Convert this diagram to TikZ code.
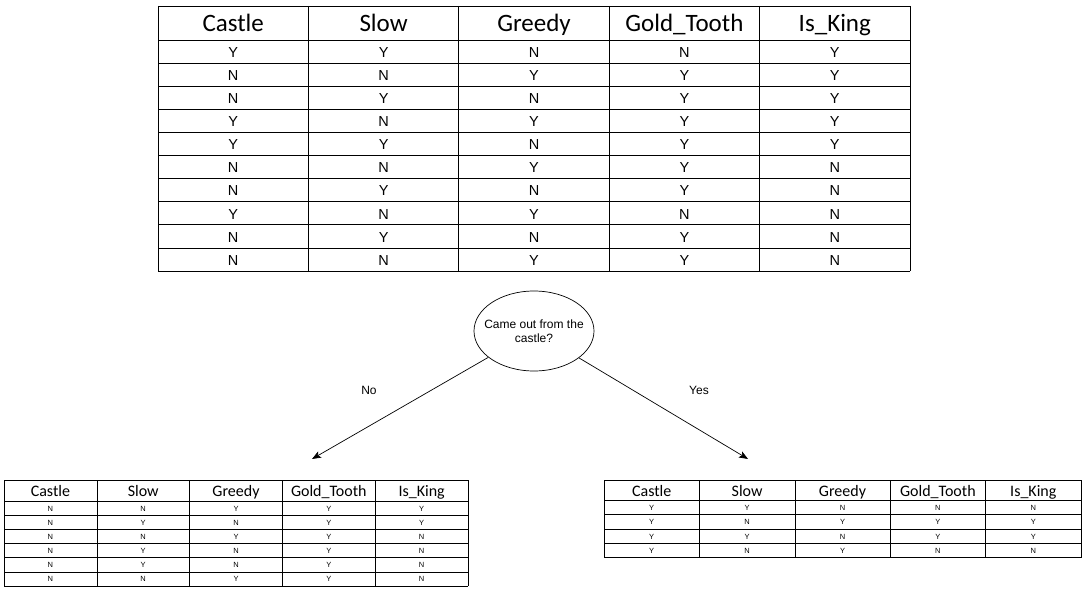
\documentclass[tikz,border=0pt]{standalone}
\usepackage{fontspec}
\setmainfont{Liberation Sans}
\newfontfamily\calib{Carlito}
\usetikzlibrary{shapes.geometric,arrows.meta}
\tikzset{
  grid/.style={draw=black,line width=0.8pt},
  smallgrid/.style={draw=black,line width=0.6pt},
  bighead/.style={anchor=base,inner sep=0pt,font=\calib\fontsize{25}{30}\selectfont},
  smallhead/.style={anchor=base,inner sep=0pt,font=\calib\fontsize{16}{19}\selectfont},
  bigcell/.style={anchor=base,inner sep=0pt,font=\fontsize{14.5}{17}\selectfont},
  smallcell/.style={anchor=base,inner sep=0pt,font=\fontsize{7.5}{9}\selectfont},
  question/.style={draw=black,line width=0.7pt,ellipse,minimum width=120pt,minimum height=80pt,inner sep=0pt},
  questiontext/.style={align=center,inner sep=0pt,font=\fontsize{12}{14.5}\selectfont},
  branch/.style={draw=black,line width=0.7pt,-{Stealth[length=9pt,width=7pt,inset=2pt]}},
  branchlabel/.style={font=\fontsize{12}{14}\selectfont,inner sep=0pt}
}
\begin{document}
\begin{tikzpicture}[x=1pt,y=-1pt]
\useasboundingbox (0,0) rectangle (1088,594);
\fill[white] (0,0) rectangle (1088,594);

% ---------- top table ----------
\foreach \i in {0,...,5} \draw[grid] ({158+150.4*\i},6) -- ({158+150.4*\i},271);
\draw[grid] (158,6) -- (910,6);
\foreach \k in {0,...,10} \draw[grid] (158,{40+23.1*\k}) -- (910,{40+23.1*\k});
\foreach \h [count=\c] in {Castle,Slow,Greedy,Gold\_Tooth,Is\_King}
  \node[bighead] (TH-\c) at ({158+150.4*(\c-0.5)},32) {\h};
\foreach \row [count=\r] in {{Y,Y,N,N,Y},{N,N,Y,Y,Y},{N,Y,N,Y,Y},{Y,N,Y,Y,Y},{Y,Y,N,Y,Y},{N,N,Y,Y,N},{N,Y,N,Y,N},{Y,N,Y,N,N},{N,Y,N,Y,N},{N,N,Y,Y,N}}
  \foreach \v [count=\c] in \row
    \node[bigcell] (T-\r-\c) at ({158+150.4*(\c-0.5)},{40+23.1*(\r-1)+17.3}) {\v};

% ---------- question ----------
\node[question] (q) at (534,331) {};
\node[questiontext] (qt) at (534,331) {Came out from the\\castle?};
\coordinate (endL) at (312,459);
\coordinate (endR) at (748,459);
\draw[branch] (q) -- (endL);
\draw[branch] (q) -- (endR);
\node[branchlabel] (no) at (369,390) {No};
\node[branchlabel] (yes) at (699,390) {Yes};

% ---------- bottom left table ----------
\foreach \i in {0,...,5} \draw[smallgrid] ({4+92.8*\i},480) -- ({4+92.8*\i},586);
\draw[smallgrid] (4,480) -- (468,480);
\foreach \k in {0,...,6} \draw[smallgrid] (4,{501+14.17*\k}) -- (468,{501+14.17*\k});
\foreach \h [count=\c] in {Castle,Slow,Greedy,Gold\_Tooth,Is\_King}
  \node[smallhead] (LH-\c) at ({4+92.8*(\c-0.5)},496) {\h};
\foreach \row [count=\r] in {{N,N,Y,Y,Y},{N,Y,N,Y,Y},{N,N,Y,Y,N},{N,Y,N,Y,N},{N,Y,N,Y,N},{N,N,Y,Y,N}}
  \foreach \v [count=\c] in \row
    \node[smallcell] (L-\r-\c) at ({4+92.8*(\c-0.5)},{501+14.17*(\r-1)+10}) {\v};

% ---------- bottom right table ----------
\foreach \i in {0,...,5} \draw[smallgrid] ({604+95.4*\i},480) -- ({604+95.4*\i},557.5);
\draw[smallgrid] (604,480) -- (1081,480);
\foreach \k in {0,...,4} \draw[smallgrid] (604,{500.5+14.25*\k}) -- (1081,{500.5+14.25*\k});
\foreach \h [count=\c] in {Castle,Slow,Greedy,Gold\_Tooth,Is\_King}
  \node[smallhead] (RH-\c) at ({604+95.4*(\c-0.5)},496) {\h};
\foreach \row [count=\r] in {{Y,Y,N,N,N},{Y,N,Y,Y,Y},{Y,Y,N,Y,Y},{Y,N,Y,N,N}}
  \foreach \v [count=\c] in \row
    \node[smallcell] (R-\r-\c) at ({604+95.4*(\c-0.5)},{500.5+14.25*(\r-1)+10}) {\v};
\end{tikzpicture}
\end{document}
